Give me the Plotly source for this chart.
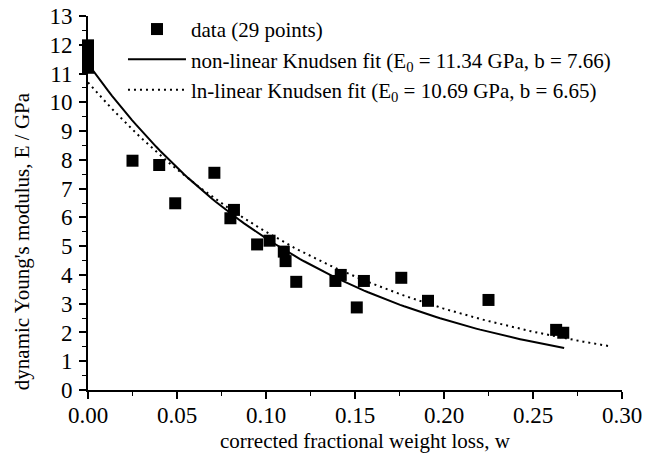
import numpy as np
import plotly.graph_objects as go

# --- data ---
w_data = [0.0, 0.0, 0.0, 0.0, 0.0, 0.0, 0.0, 0.0, 0.0,
          0.025, 0.040, 0.049, 0.071, 0.080, 0.082, 0.095, 0.102,
          0.110, 0.111, 0.117, 0.139, 0.142, 0.151, 0.155, 0.176,
          0.191, 0.225, 0.263, 0.267]
E_data = [11.98, 11.9, 11.8, 11.7, 11.6, 11.5, 11.4, 11.3, 11.2,
          7.97, 7.82, 6.49, 7.55, 5.97, 6.26, 5.06, 5.19,
          4.81, 4.48, 3.76, 3.79, 4.00, 2.87, 3.79, 3.90,
          3.10, 3.13, 2.09, 1.99]

# fit parameters (from the legend)
E0_nl, b_nl, wmax_nl = 11.34, 7.66, 0.2675
E0_ln, b_ln, wmax_ln = 10.69, 6.65, 0.293

x_ticks = [0.00, 0.05, 0.10, 0.15, 0.20, 0.25, 0.30]
y_ticks = list(range(0, 14))

x_title = "corrected fractional weight loss, w"
y_title = "dynamic Young's modulus, E / GPa"

w_nl = np.linspace(0, wmax_nl, 120)
w_ln = np.linspace(0, wmax_ln, 120)

FONT = "Liberation Serif"

fig = go.Figure()
fig.add_trace(go.Scatter(
    x=w_data, y=E_data, mode="markers", name="data (29 points)",
    marker=dict(symbol="square", size=12, color="black", line=dict(width=0)),
    cliponaxis=False))
fig.add_trace(go.Scatter(
    x=w_nl, y=E0_nl * np.exp(-b_nl * w_nl), mode="lines",
    name="non-linear Knudsen fit (E<sub>0</sub> = 11.34 GPa, b = 7.66)",
    line=dict(color="black", width=2)))
fig.add_trace(go.Scatter(
    x=w_ln, y=E0_ln * np.exp(-b_ln * w_ln), mode="lines",
    name="ln-linear Knudsen fit (E<sub>0</sub> = 10.69 GPa, b = 6.65)",
    line=dict(color="black", width=2, dash="2px,4px")))

axis_common = dict(
    showline=True, linecolor="black", linewidth=2, showgrid=False, zeroline=False,
    ticks="outside", ticklen=7, tickwidth=1.5, tickcolor="black",
    tickfont=dict(family=FONT, size=23, color="black"),
    mirror=False, automargin=False, ticklabeloverflow="allow",
)

fig.update_layout(
    width=656, height=468,
    margin=dict(l=88, r=34, t=16, b=78, autoexpand=False),
    paper_bgcolor="white", plot_bgcolor="white",
    font=dict(family=FONT, color="black"),
    showlegend=True,
    legend=dict(x=0.0655, y=1.019, xanchor="left", yanchor="top",
                bgcolor="rgba(0,0,0,0)", font=dict(family=FONT, size=21, color="black"),
                tracegroupgap=0, itemwidth=58),
    xaxis=dict(range=[0, 0.30], tickvals=x_ticks, tickformat=".2f",
               ticklabelstandoff=-4,
               minor=dict(dtick=0.025, ticks="outside", ticklen=4, tickcolor="black", tickwidth=1),
               **axis_common),
    yaxis=dict(range=[0, 13], tickvals=y_ticks, ticklabelstandoff=2,
               minor=dict(dtick=0.5, ticks="outside", ticklen=4, tickcolor="black", tickwidth=1),
               **axis_common),
    annotations=[
        dict(text=x_title, xref="paper", yref="paper", x=0.52, y=-0.136,
             xanchor="center", yanchor="middle", showarrow=False,
             font=dict(family=FONT, size=21, color="black")),
        dict(text=y_title, xref="paper", yref="paper", x=-0.1236, y=0.398,
             xanchor="center", yanchor="middle", showarrow=False, textangle=-90,
             font=dict(family=FONT, size=21, color="black")),
    ],
)

# remove the page's default 8px body margin so the figure fills the window
fig.write_html("out.html", config={"displayModeBar": False},
               post_script="document.body.style.margin='0';")
